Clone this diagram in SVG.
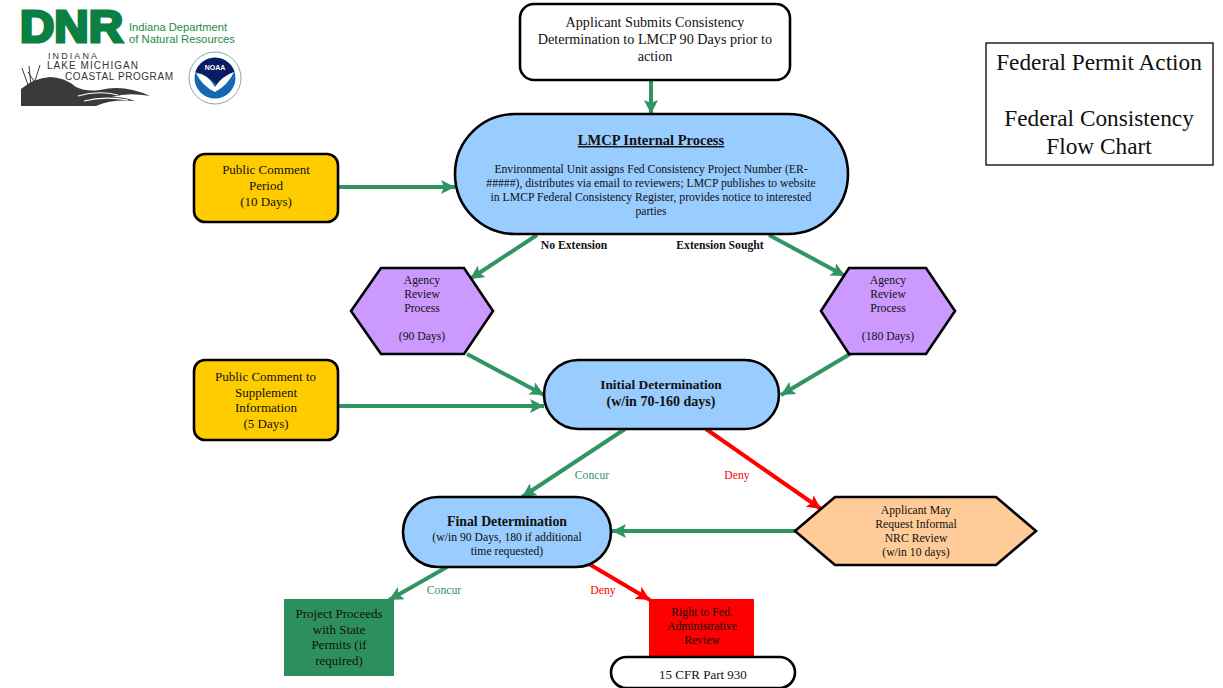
<svg xmlns="http://www.w3.org/2000/svg" width="1223" height="688" viewBox="0 0 1223 688">
<style>
text{font-family:"Liberation Serif","Times New Roman",serif;text-anchor:middle;fill:#111}
.s{stroke:#000;stroke-width:2.6}
.n{font-size:11.7px}
.m{font-size:13px}
.t{font-size:14.2px}
.h{font-size:13.8px;font-weight:bold}
.g{fill:none;stroke:#319562;stroke-width:4}
.r{fill:none;stroke:#f00;stroke-width:4}
.l{font-family:"Liberation Sans",Arial,sans-serif;text-anchor:start}
</style>
<defs>
<marker id="ag" markerUnits="userSpaceOnUse" markerWidth="16" markerHeight="14" refX="14" refY="7" orient="auto"><path d="M0 0L14 7L0 14L3 7Z" fill="#319562"/></marker>
<marker id="ar" markerUnits="userSpaceOnUse" markerWidth="16" markerHeight="14" refX="14" refY="7" orient="auto"><path d="M0 0L14 7L0 14L3 7Z" fill="#f00"/></marker>
</defs>
<rect width="1223" height="688" fill="#fff"/>
<g id="logos">
<text class="l" x="20" y="41.500" font-size="44" font-weight="bold" stroke="#0b8043" stroke-width="3" style="fill:#0b8043" textLength="103" lengthAdjust="spacingAndGlyphs">DNR</text>
<text class="l" x="129" y="31" font-size="11.200" style="fill:#1c8a4c" textLength="98" lengthAdjust="spacingAndGlyphs">Indiana Department</text>
<text class="l" x="129" y="43" font-size="11.200" style="fill:#1c8a4c" textLength="106" lengthAdjust="spacingAndGlyphs">of Natural Resources</text>
<text class="l" x="48" y="59" font-size="9" style="fill:#333" textLength="49">INDIANA</text>
<text class="l" x="47" y="69" font-size="10" style="fill:#333" textLength="91">LAKE MICHIGAN</text>
<text class="l" x="65" y="80" font-size="10" style="fill:#333" textLength="108">COASTAL PROGRAM</text>
<path d="M21 106V89Q34 78 50 77Q64 77 76 87Q86 92 100 90Q124 84 150 96Q128 92 112 97Q125 97 135 101Q112 99 96 106Z" fill="#3a3a3a"/>
<path d="M78 96Q98 90 118 95M84 101Q104 96 128 100" stroke="#fff" stroke-width="1.200" fill="none"/>
<path d="M29 88L22 68M31 86L29 66M34 84L40 65M36 84L28 72" stroke="#3a3a3a" stroke-width="1" fill="none"/>
<circle cx="215" cy="78" r="26" fill="#fff" stroke="#8aa" stroke-width="1"/>
<circle cx="215" cy="78" r="20.500" fill="#1467b0"/>
<path d="M195.500 72A20.500 20.500 0 0 1 234.500 72Q226 74 217 85Q206 74 195.500 72Z" fill="#0c1c63"/>
<path d="M196 73Q208 74 215 87Q222 76 234 72Q228 85 215 92Q202 86 196 73Z" fill="#fff"/>
<text x="215" y="70" font-size="7" font-weight="bold" style="font-family:'Liberation Sans',sans-serif;fill:#fff">NOAA</text>
</g>
<g id="connectors">
<path class="g" marker-end="url(#ag)" d="M651 81V114"/>
<path class="g" marker-end="url(#ag)" d="M339 187H455"/>
<path class="g" marker-end="url(#ag)" d="M537 235L470 279"/>
<path class="g" marker-end="url(#ag)" d="M769 235L845 276"/>
<path class="g" marker-end="url(#ag)" d="M467 354L544 395"/>
<path class="g" marker-end="url(#ag)" d="M850 354L781 395"/>
<path class="g" marker-end="url(#ag)" d="M339 406H544"/>
<path class="g" marker-end="url(#ag)" d="M625 429L522 497"/>
<path class="r" marker-end="url(#ar)" d="M706 429L821 509"/>
<path class="g" marker-end="url(#ag)" d="M797 531H612"/>
<path class="g" marker-end="url(#ag)" d="M447 567L389 600"/>
<path class="r" marker-end="url(#ar)" d="M589 564L650 600"/>
</g>
<g id="top"><rect class="s" x="520" y="4" width="270" height="76" rx="14" fill="#fff"/>
<text class="t" x="655" y="27">Applicant Submits Consistency</text><text class="t" x="655" y="44">Determination to LMCP 90 Days prior to</text><text class="t" x="655" y="61">action</text></g>
<g id="title"><rect x="986" y="43" width="227" height="122" fill="#fff" stroke="#000" stroke-width="1.300"/>
<text x="1099" y="70" font-size="23.300">Federal Permit Action</text><text x="1099" y="126" font-size="23.300">Federal Consistency</text><text x="1099" y="154" font-size="23.300">Flow Chart</text></g>
<g id="lmcp"><rect class="s" x="455" y="114" width="393" height="120" rx="60" fill="#99ccff"/>
<text x="651" y="145" font-size="14.500" font-weight="bold" text-decoration="underline">LMCP Internal Process</text>
<text class="n" x="651" y="173">Environmental Unit assigns Fed Consistency Project Number (ER-</text><text class="n" x="651" y="187">#####), distributes via email to reviewers; LMCP publishes to website</text><text class="n" x="651" y="201">in LMCP Federal Consistency Register, provides notice to interested</text><text class="n" x="651" y="215">parties</text></g>
<g id="pc1"><rect class="s" x="194" y="154" width="144" height="68" rx="11" fill="#ffcc00"/>
<text class="m" x="266" y="174">Public Comment</text><text class="m" x="266" y="190">Period</text><text class="m" x="266" y="206">(10 Days)</text></g>
<g id="labels1"><text class="n" x="574" y="249" font-weight="bold">No Extension</text><text class="n" x="720" y="249" font-weight="bold">Extension Sought</text></g>
<g id="arp90"><path class="s" d="M351 311L381 268H464L493 311L464 354H381Z" fill="#cc99ff"/>
<text class="n" x="422" y="284">Agency</text><text class="n" x="422" y="298">Review</text><text class="n" x="422" y="312">Process</text><text class="n" x="422" y="340">(90 Days)</text></g>
<g id="arp180"><path class="s" d="M821 311L849 268H926L955 311L926 354H849Z" fill="#cc99ff"/>
<text class="n" x="888" y="284">Agency</text><text class="n" x="888" y="298">Review</text><text class="n" x="888" y="312">Process</text><text class="n" x="888" y="340">(180 Days)</text></g>
<g id="pc2"><rect class="s" x="194" y="360" width="144" height="80" rx="11" fill="#ffcc00"/>
<text class="m" x="265.500" y="381">Public Comment to</text><text class="m" x="266" y="397">Supplement</text><text class="m" x="266" y="412">Information</text><text class="m" x="266" y="428">(5 Days)</text></g>
<g id="initial"><rect class="s" x="544" y="360" width="235" height="69" rx="34.500" fill="#99ccff"/>
<text class="h" x="661" y="389" style="font-size:13.400px">Initial Determination</text><text class="h" x="661" y="406" style="font-size:14px">(w/in 70-160 days)</text></g>
<g id="labels2"><text class="n" x="592" y="479" style="fill:#319562">Concur</text><text class="n" x="737" y="479" style="fill:#f00">Deny</text></g>
<g id="final"><rect class="s" x="403" y="497" width="208" height="70" rx="35" fill="#99ccff"/>
<text class="h" x="507" y="526">Final Determination</text><text class="n" x="507" y="541">(w/in 90 Days, 180 if additional</text><text class="n" x="507" y="555">time requested)</text></g>
<g id="nrc"><path class="s" d="M795 531L835 497H996L1036 531L996 565H835Z" fill="#ffcc99"/>
<text class="n" x="916" y="514">Applicant May</text><text class="n" x="916" y="528">Request Informal</text><text class="n" x="916" y="542">NRC Review</text><text class="n" x="916" y="556">(w/in 10 days)</text></g>
<g id="labels3"><text class="n" x="444" y="594" style="fill:#319562">Concur</text><text class="n" x="603" y="594" style="fill:#f00">Deny</text></g>
<g id="proceeds"><rect x="284" y="599" width="110" height="77" fill="#2e8f5e"/>
<text class="m" x="339" y="618">Project Proceeds</text><text class="m" x="339" y="634">with State</text><text class="m" x="339" y="649">Permits (if</text><text class="m" x="339" y="665">required)</text></g>
<g id="right"><rect x="649" y="599" width="105" height="60" fill="#f00"/>
<text class="n" x="702" y="616">Right to Fed.</text><text class="n" x="702" y="630">Administrative</text><text class="n" x="702" y="644">Review</text></g>
<g id="cfr"><rect class="s" x="611" y="657" width="184" height="31" rx="15.500" fill="#fff"/><text class="m" x="703" y="679">15 CFR Part 930</text></g>
</svg>
